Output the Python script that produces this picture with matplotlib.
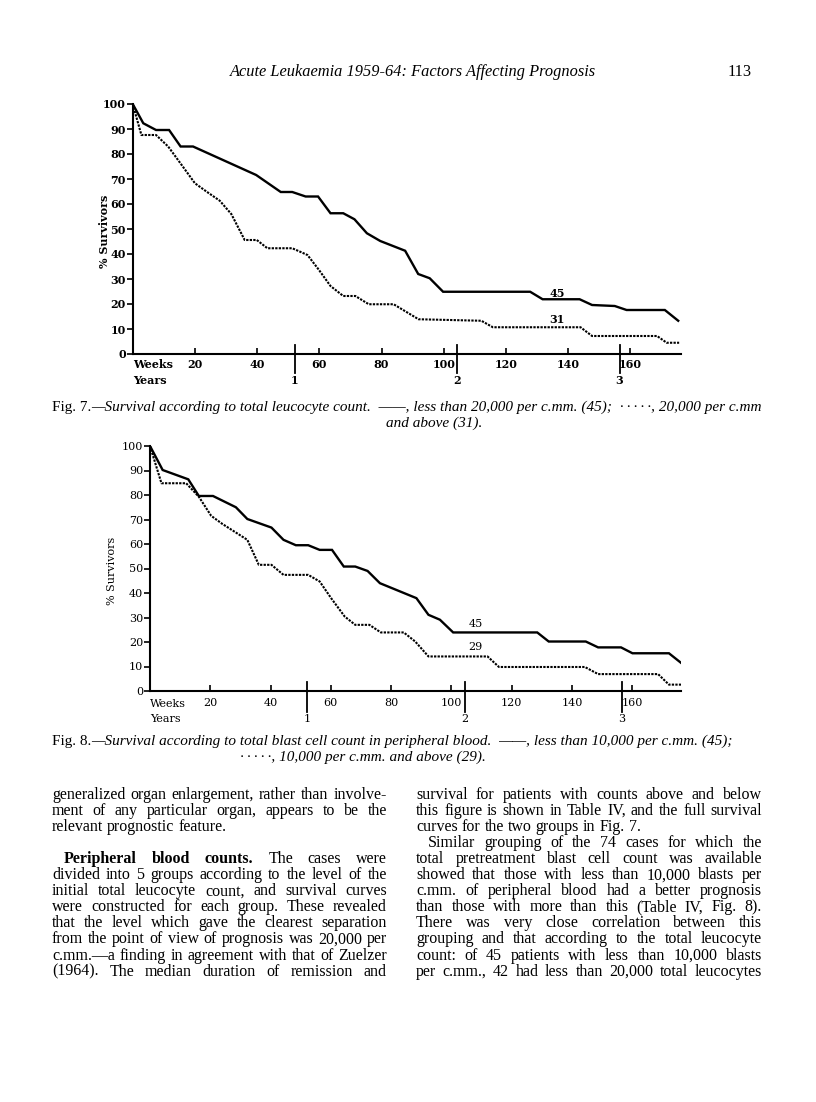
import numpy as np
import matplotlib
matplotlib.use("Agg")
import matplotlib.pyplot as plt

W, H = 816, 1102

# ---- data (weeks, % survivors) ----
f7_low_wk = [0, 3.4, 7.5, 11.7, 15.4, 19.4, 39.7, 47.6, 51.3, 55.6, 59.6, 63.6, 67.7, 71.3, 75.3, 79.6,
             87.6, 91.8, 95.5, 99.8, 127.8, 131.8, 143.7, 147.7, 155, 158.8, 171.1, 175.4]
f7_low_pc = [100, 92.3, 89.6, 89.6, 83, 83, 71.6, 64.8, 64.8, 63, 63, 56.3, 56.3, 53.9, 48.3, 45.2,
             41.3, 32, 30.3, 24.9, 24.9, 21.9, 21.9, 19.6, 19.2, 17.6, 17.6, 13.3]
f7_high_wk = [0, 2.8, 7.5, 11.4, 16.1, 20, 23.7, 28, 31.7, 36, 39.9, 43.3, 51.3, 56.2, 59.9, 63.6,
              67.7, 71.6, 75.9, 83.9, 91.9, 112.1, 115.8, 144, 147.7, 168.6, 171.7, 175.7]
f7_high_pc = [100, 87.6, 87.6, 83, 75, 68.3, 65, 61.3, 56, 45.6, 45.6, 42.3, 42.3, 39.6, 33.6, 27.2,
              23.2, 23.2, 19.9, 19.9, 13.9, 13.3, 10.7, 10.7, 7.2, 7.2, 4.5, 4.5]

f8_low_wk = [0, 4.2, 12.7, 16.2, 20.9, 24.7, 28.5, 32.3, 40.3, 44.3, 48.4, 52.5, 56.3, 60.4, 64.3, 68.1,
             72.2, 76.3, 88.4, 92.4, 96.2, 100.6, 128.5, 132.3, 144.6, 148.7, 156.3, 160.1, 172.2, 176.3]
f8_low_pc = [100, 90.2, 86.4, 79.6, 79.6, 77.3, 75, 70.2, 66.7, 61.7, 59.5, 59.5, 57.6, 57.6, 50.8, 50.8,
             49, 44, 37.9, 31.1, 29.1, 23.9, 23.9, 20.2, 20.2, 17.8, 17.8, 15.4, 15.4, 11.4]
f8_high_wk = [0, 3.8, 12, 16.2, 20.3, 24, 32.3, 36.1, 40.3, 44.3, 52.5, 56.3, 60.1, 64.6, 68.1, 72.8,
              76.6, 84.2, 88, 92.4, 112, 115.8, 144.3, 148.7, 168.6, 172.2, 176.3]
f8_high_pc = [100, 84.8, 84.8, 79.3, 71.5, 68.2, 61.7, 51.5, 51.5, 47.4, 47.4, 44.7, 37.9, 30.4, 27, 27,
              23.9, 23.9, 20.2, 14.1, 14.1, 9.8, 9.8, 6.9, 6.9, 2.6, 2.6]

week_ticks = [20, 40, 60, 80, 100, 120, 140, 160]
pct_ticks = [0, 10, 20, 30, 40, 50, 60, 70, 80, 90, 100]
years = [1, 2, 3]
WEEKS_PER_YEAR = 52.18

fig = plt.figure(figsize=(W / 100, H / 100), dpi=100)
fig.patch.set_facecolor("white")
renderer = fig.canvas.get_renderer()


def px(x, y):
    return x / W, 1 - y / H


def axes_px(left, top, right, bottom):
    return fig.add_axes([left / W, 1 - bottom / H, (right - left) / W, (bottom - top) / H])


def survival_panel(box, low, high, labels, font, weight, pad, ylab_x, wk_y, yr_y, yr_tick, yr_lab):
    ax = axes_px(*box)
    ax.plot(low[0], low[1], color="black", lw=1.7, solid_joinstyle="miter")
    ax.plot(high[0], high[1], color="black", lw=1.5, linestyle=(0, (1.1, 0.6)))
    ax.set_xlim(0, 176.2)
    ax.set_ylim(0, 100)
    for s in ["top", "right"]:
        ax.spines[s].set_visible(False)
    for s in ["left", "bottom"]:
        ax.spines[s].set_linewidth(1.5)
    ax.set_yticks(pct_ticks)
    ax.set_yticklabels([str(p) for p in pct_ticks], fontsize=8, family=font, fontweight=weight)
    ax.set_xticks(week_ticks)
    ax.set_xticklabels([str(w) for w in week_ticks], fontsize=8, family=font, fontweight=weight)
    ax.tick_params(axis="y", direction="out", length=4, width=1.2, pad=1)
    ax.tick_params(axis="x", direction="in", length=4.5, width=1.2, pad=pad)
    for lab, (wx, wy) in labels:
        ax.text(wx, wy, lab, fontsize=8, family=font, fontweight=weight, ha="center", va="center")
    # year markers
    for yv in years:
        xv = yv * WEEKS_PER_YEAR
        ax.plot([xv, xv], yr_tick, color="black", lw=1.3, clip_on=False)
        ax.text(xv, yr_lab, str(yv), fontsize=8, family=font, fontweight=weight,
                ha="center", va="center", clip_on=False)
    left, top, right, bottom = box
    fig.text(*px(left, wk_y), "Weeks", fontsize=8, family=font, fontweight=weight, va="center")
    fig.text(*px(left, yr_y), "Years", fontsize=8, family=font, fontweight=weight, va="center")
    fig.text(*px(ylab_x, (top + bottom) / 2 + 2), "% Survivors", rotation=90, fontsize=8,
             family=font, fontweight=weight, ha="center", va="center")
    return ax


survival_panel((132.7, 104, 680.7, 354), (f7_low_wk, f7_low_pc), (f7_high_wk, f7_high_pc),
               [("45", (136.4, 24.3)), ("31", (136.4, 13.9))],
               "DejaVu Serif", "bold", 3.3, 104, 365, 381, [3.6, -7.6], -10.8)
survival_panel((150, 446, 681, 691), (f8_low_wk, f8_low_pc), (f8_high_wk, f8_high_pc),
               [("45", (108, 27.3)), ("29", (108, 17.9))],
               "DejaVu Serif", "normal", 5, 112, 704, 719, [3.7, -8.6], -11.4)

# ---- page text ----
serif = "Liberation Serif"
fig.text(*px(413, 76), "Acute Leukaemia 1959-64: Factors Affecting Prognosis", fontsize=11.8,
         family=serif, style="italic", ha="center", va="baseline")
fig.text(*px(740, 76), "113", fontsize=11.8, family=serif, ha="center", va="baseline")

CAP = 11.0


def caption(x, y, head, body):
    t = fig.text(*px(x, y), head, fontsize=CAP, family=serif, va="baseline")
    w = t.get_window_extent(renderer).width
    fig.text(*px(x + w, y), body, fontsize=CAP, family=serif, style="italic", va="baseline")


caption(52, 411, "Fig. 7.", "\u2014Survival according to total leucocyte count.  \u2014\u2014, less than 20,000 "
        "per c.mm. (45);  \u00b7\u2009\u00b7\u2009\u00b7\u2009\u00b7\u2009\u00b7, 20,000 per c.mm")
fig.text(*px(434, 427), "and above (31).", style="italic", ha="center", fontsize=CAP, family=serif,
         va="baseline")
caption(52, 745, "Fig. 8.", "\u2014Survival according to total blast cell count in peripheral blood.  "
        "\u2014\u2014, less than 10,000 per c.mm. (45);")
fig.text(*px(240, 761), "\u00b7\u2009\u00b7\u2009\u00b7\u2009\u00b7\u2009\u00b7, 10,000 per c.mm. and above (29).",
         style="italic", fontsize=CAP, family=serif, va="baseline")

left_col = [
    ("generalized organ enlargement, rather than involve-", 0, True),
    ("ment of any particular organ, appears to be the", 0, True),
    ("relevant prognostic feature.", 0, False),
    None,
    ("Peripheral blood counts. The cases were", 3, True),
    ("divided into 5 groups according to the level of the", 0, True),
    ("initial total leucocyte count, and survival curves", 0, True),
    ("were constructed for each group.  These revealed", 0, True),
    ("that the level which gave the clearest separation", 0, True),
    ("from the point of view of prognosis was 20,000 per", 0, True),
    ("c.mm.\u2014a finding in agreement with that of Zuelzer", 0, True),
    ("(1964).  The median duration of remission and", 0, True),
]
right_col = [
    ("survival for patients with counts above and below", 0, True),
    ("this figure is shown in Table IV, and the full survival", 0, True),
    ("curves for the two groups in Fig. 7.", 0, False),
    ("Similar grouping of the 74 cases for which the", 0, True),
    ("total pretreatment blast cell count was available", 0, True),
    ("showed that those with less than 10,000 blasts per", 0, True),
    ("c.mm. of peripheral blood had a better prognosis", 0, True),
    ("than those with more than this (Table IV, Fig. 8).", 0, True),
    ("There was very close correlation between this", 0, True),
    ("grouping and that according to the total leucocyte", 0, True),
    ("count: of 45 patients with less than 10,000 blasts", 0, True),
    ("per c.mm., 42 had less than 20,000 total leucocytes", 0, True),
]
indent = {"Peripheral blood counts. The cases were": 12,
          "Similar grouping of the 74 cases for which the": 12}

BODY = 11.5


def set_line(line, x0, x1, y, size=BODY):
    text, nbold, just = line
    words = text.split()
    x0 = x0 + indent.get(text, 0)
    objs = []
    for i, w in enumerate(words):
        t = fig.text(0, 0, w, fontsize=size, family=serif, va="baseline",
                     fontweight="bold" if i < nbold else "normal")
        objs.append(t)
    widths = [t.get_window_extent(renderer).width for t in objs]
    if just and len(words) > 1:
        gap = (x1 - x0 - sum(widths)) / (len(words) - 1)
    else:
        gap = size * 0.25 * 100 / 72
    x = x0
    for t, wd in zip(objs, widths):
        t.set_position(px(x, y))
        x += wd + gap


for i, line in enumerate(left_col):
    if line is not None:
        set_line(line, 52, 387, 799 + 16.05 * i)
for i, line in enumerate(right_col):
    set_line(line, 416, 762, 799 + 16.05 * i)

fig.savefig("out.png", dpi=100, facecolor="white")
